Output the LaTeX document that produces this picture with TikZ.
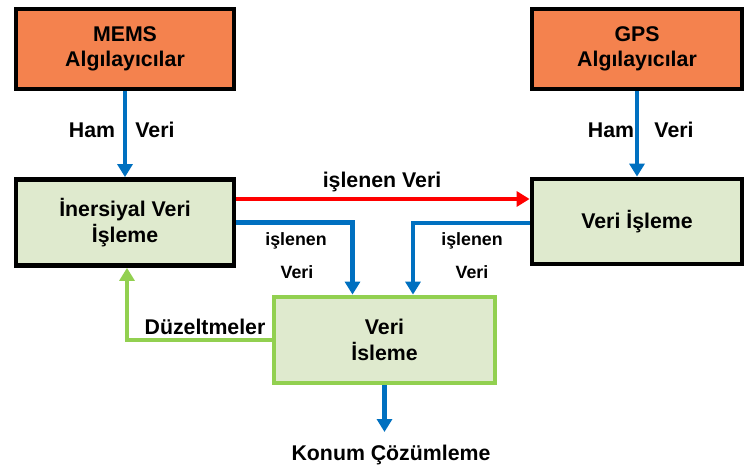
\documentclass[tikz,border=0pt]{standalone}
\usepackage{fontspec}
\setmainfont{Liberation Sans}
\usetikzlibrary{arrows.meta}
\definecolor{orng}{HTML}{F4824E}
\definecolor{lgreen}{HTML}{DFEACE}
\definecolor{gline}{HTML}{92D050}
\definecolor{bline}{HTML}{0070C0}
\begin{document}
\begin{tikzpicture}[x=1pt,y=-1pt,
  bigtxt/.style={font=\fontsize{21.3}{25.5}\selectfont\bfseries, align=center},
  smalltxt/.style={font=\fontsize{17.8}{20}\selectfont\bfseries},
  sensor/.style={draw=black, line width=4.8pt, fill=orng, minimum width=218pt, minimum height=80pt, inner sep=0pt, bigtxt},
  procbox/.style={draw=black, line width=4.8pt, fill=lgreen, minimum height=86pt, inner sep=0pt, bigtxt},
  fusebox/.style={draw=gline, line width=4.8pt, fill=lgreen, minimum width=221pt, minimum height=86pt, inner sep=0pt, bigtxt},
  tip/.style={-{Triangle[width=15pt,length=13pt]}},
  blue arrow/.style={draw=bline, line width=4.5pt, tip},
  red arrow/.style={draw=red, line width=4.3pt, tip},
  green arrow/.style={draw=gline, line width=4.5pt, tip}]
\useasboundingbox (0,0) rectangle (744,470);
\node[sensor] (mems) at (125,49) {MEMS\\Algılayıcılar};
\node[sensor, minimum width=210pt] (gps) at (637,49) {GPS\\Algılayıcılar};
\node[procbox, minimum width=218pt] (ins) at (125,222.5) {İnersiyal Veri\\İşleme};
\node[procbox, minimum width=210pt, minimum height=85pt] (vp) at (637,221.5) {Veri İşleme};
\node[fusebox] (fuse) at (384.5,340) {Veri\\İsleme};
\coordinate (konumtip) at (384.5,432);
\node[bigtxt] (konum) at (391,455) {Konum Çözümleme};

\path[blue arrow] (mems.south) -- (ins.north);
\path[blue arrow] (gps.south) -- (vp.north);
\node[bigtxt] (ham1) at (92,130) {Ham};
\node[bigtxt] (veri1) at (155,130) {Veri};
\node[bigtxt] (ham2) at (611,130) {Ham};
\node[bigtxt] (veri2) at (674,130) {Veri};

\path[red arrow] ([yshift=23.5pt]ins.east) -- ([yshift=22.5pt]vp.west);
\node[bigtxt] (islv) at (382,182) {işlenen Veri};

\path[blue arrow] (ins.east) -| ([xshift=-32pt]fuse.north);
\path[blue arrow] ([yshift=-1.5pt]vp.west) -| ([xshift=28.5pt]fuse.north);
\node[smalltxt] (isl1) at (296,241) {işlenen};
\node[smalltxt] (ver1) at (297,272) {Veri};
\node[smalltxt] (isl2) at (472,241) {işlenen};
\node[smalltxt] (ver2) at (472,272) {Veri};

\path[green arrow] (fuse.west) -| ([xshift=2pt]ins.south);
\node[bigtxt] (duz) at (205,327) {Düzeltmeler};

\path[blue arrow, line width=5.5pt] (fuse.south) -- (konumtip);
\end{tikzpicture}
\end{document}
